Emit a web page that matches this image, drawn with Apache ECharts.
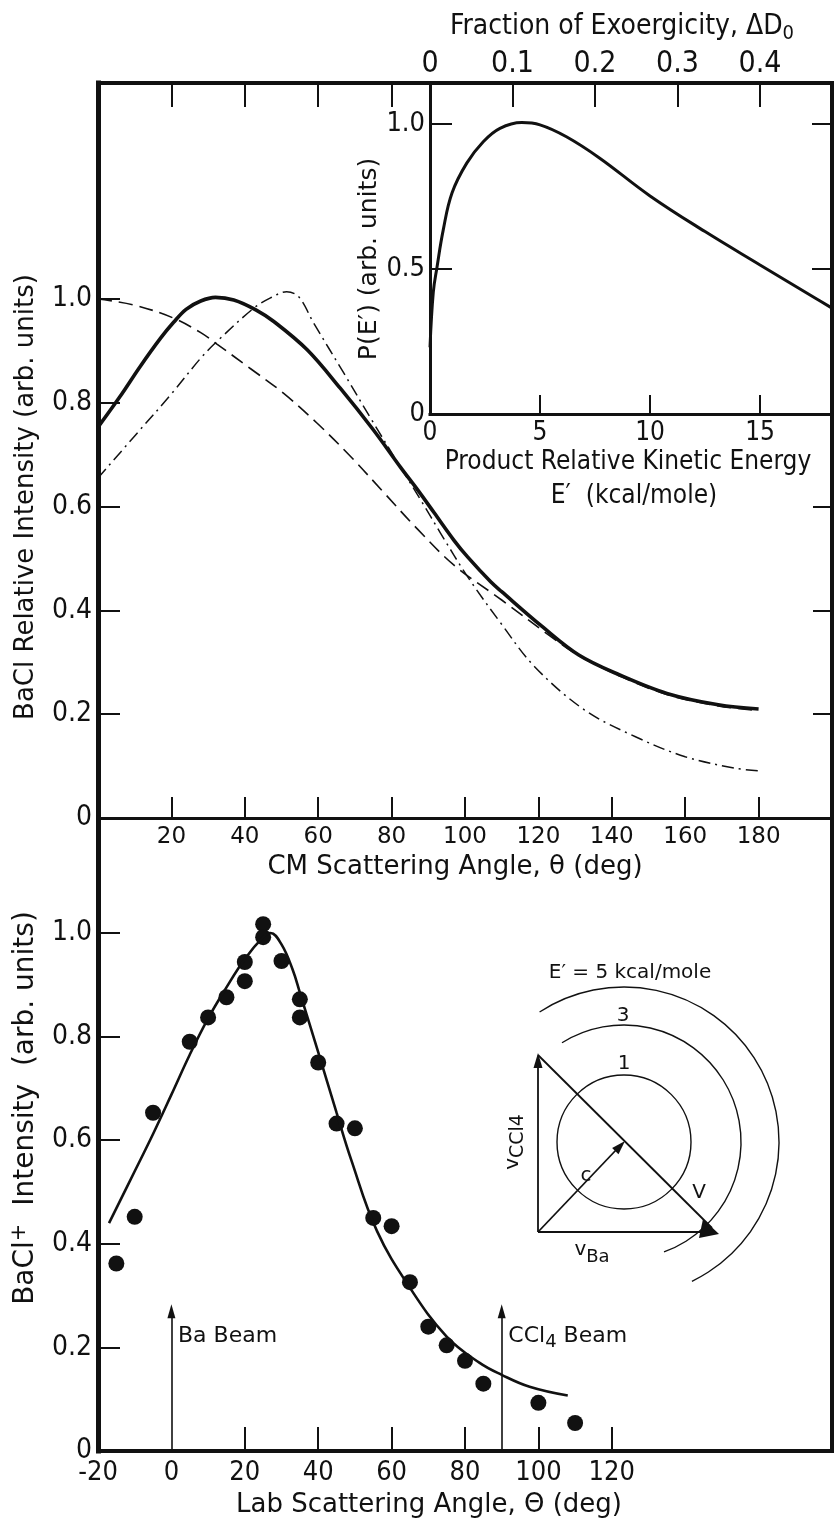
<!DOCTYPE html>
<html><head><meta charset="utf-8">
<script src="https://cdn.jsdelivr.net/npm/echarts/dist/echarts.min.js"></script>
<style>html,body{margin:0;padding:0;background:#fff}#c{width:837px;height:1525px}</style>
</head><body><div id="c"></div>
<script>
// ---------- DATA ----------
// Upper panel: CM angular distributions (CM angle in deg, relative intensity)
const solidCM   = [0,6,11.5,17,20.6,24,28,32,37,43,48,57,66,75,82.5,87,91.6,97,100.7,107,110,121,131,142,155,169,180];
const solidVal  = [0.753,0.812,0.87,0.924,0.955,0.98,0.996,1.003,0.998,0.979,0.956,0.902,0.828,0.748,0.675,0.633,0.588,0.535,0.503,0.455,0.436,0.369,0.314,0.276,0.24,0.218,0.21];
const dashCM    = [0,10,20.6,28,32.4,41.5,50.6,59.8,68.9,78,87,97,110,123.5,131,142,155,169,180];
const dashVal   = [1.0,0.988,0.963,0.935,0.913,0.866,0.818,0.76,0.696,0.626,0.557,0.487,0.42,0.349,0.313,0.274,0.238,0.216,0.207];
const dotCM     = [0,10,20,28,32.4,42.4,47,51.4,54.7,58.8,67,74.3,82.5,88,93.4,100.7,109.8,118.9,132.6,146.3,160,173.6,180];
const dotVal    = [0.655,0.736,0.817,0.886,0.918,0.982,1.002,1.014,1.004,0.953,0.857,0.77,0.675,0.612,0.548,0.465,0.375,0.292,0.208,0.157,0.118,0.096,0.091];
// Inset: P(E') vs E' (kcal/mole)
const peE       = [0,0.15,0.32,0.6,1.0,1.67,2.42,3.18,4.17,5.0,6.2,7.7,10,12.5,15,17.5,18.27];
const peVal     = [0.23,0.42,0.507,0.634,0.762,0.865,0.939,0.985,1.005,0.997,0.956,0.883,0.752,0.629,0.514,0.40,0.365];
// Lower panel: lab angular distribution
const fitLab    = [-17,-10,-5,0,5,10,15,20,25,27,30,33,35,40,45,49,56,65,75,84,90,97.6,108];
const fitVal    = [0.44,0.54,0.612,0.688,0.765,0.835,0.895,0.95,0.992,1.0,0.978,0.93,0.885,0.77,0.653,0.562,0.425,0.315,0.221,0.17,0.147,0.124,0.107];
const ptLab     = [-15,-10,-5,5,10,15,20,20,25,25,30,35,35,40,45,50,55,60,65,70,75,80,85,100,110];
const ptVal     = [0.362,0.452,0.653,0.79,0.837,0.876,0.944,0.907,1.017,0.992,0.946,0.872,0.837,0.75,0.632,0.623,0.45,0.434,0.326,0.24,0.204,0.174,0.13,0.093,0.054];
// Beam directions (lab angle)
const beamAngles = [0, 90];
const beamNames  = ['Ba Beam', 'CCl{s|4} Beam'];
// Tick values / labels
const cmTicks      = [20,40,60,80,100,120,140,160,180];
const cmTopTicks   = [20,40,60,80];
const yTicks       = [0.2,0.4,0.6,0.8,1.0];
const yLabels      = [0,0.2,0.4,0.6,0.8,1.0];
const upperRightTicks = [0.2,0.4,0.6];
const eTicks       = [5,10,15];
const eLabels      = [0,5,10,15];
const fracTicks    = [0.1,0.2,0.3,0.4];
const fracLabels   = [0,0.1,0.2,0.3,0.4];
const pTicks       = [0.5,1.0];
const pLabels      = [0,0.5,1.0];
const labTicks     = [20,40,60,80,100,120];
const labLabels    = [-20,0,20,40,60,80,100,120];

const zip = (a,b) => a.map((v,i)=>[v,b[i]]);
const K = '#111';
const REG = "'DejaVu Sans', 'Liberation Sans', sans-serif";
const NAR = "'Liberation Sans Narrow', 'DejaVu Sans Condensed', 'Arial Narrow', sans-serif";
const fmt1 = v => (v === 0 ? '0' : v.toFixed(1));

function ax(o){
  return {
    type:'value', min:o.min, max:o.max, gridIndex:o.grid, position:o.pos,
    splitLine:{show:false},
    axisLine:{show:o.line!==0, onZero:false, lineStyle:{color:K, width:o.line||3, cap:'square'}},
    axisTick:{show:!!o.ticks, inside:true, length:o.tlen||20, customValues:o.ticks||[], lineStyle:{color:K,width:2}},
    axisLabel:{show:!!o.labels, customValues:o.labels||[], margin:o.margin||8, color:K,
      fontSize:o.fs||24, fontFamily:o.ff||REG, formatter:o.fmt||(v=>String(v)), hideOverlap:false, showMinLabel:true, showMaxLabel:true}
  };
}

const chart = echarts.init(document.getElementById('c'), null, {renderer:'canvas'});
const option = {
  backgroundColor:'#fff',
  animation:false,
  grid:[
    {left:98, top:83, width:734, height:735},
    {left:430, top:83, width:402, height:331},
    {left:98, top:818, width:734, height:633}
  ],
  xAxis:[
    ax({grid:0,min:0,max:200,pos:'bottom',line:3,ticks:cmTicks,tlen:21,labels:cmTicks,fs:23,ff:REG,margin:8}),
    ax({grid:0,min:0,max:200,pos:'top',line:4,ticks:cmTopTicks,tlen:24}),
    ax({grid:1,min:0,max:18.27,pos:'bottom',line:3,ticks:eTicks,tlen:19,labels:eLabels,fs:26,ff:NAR,margin:6}),
    ax({grid:1,min:0,max:0.4872,pos:'top',line:0,ticks:fracTicks,tlen:24,labels:fracLabels,fs:30,ff:NAR,margin:4,fmt:fmt1}),
    ax({grid:2,min:-20,max:180,pos:'bottom',line:4,ticks:labTicks,tlen:24,labels:labLabels,fs:27,ff:NAR,margin:8})
  ],
  yAxis:[
    ax({grid:0,min:0,max:1.416,pos:'left',line:5,ticks:yTicks,tlen:22,labels:yLabels,fs:28,ff:NAR,margin:6,fmt:fmt1}),
    ax({grid:0,min:0,max:1.416,pos:'right',line:4,ticks:upperRightTicks,tlen:19}),
    ax({grid:1,min:0,max:1.1414,pos:'left',line:3,ticks:pTicks,tlen:22,labels:pLabels,fs:27,ff:NAR,margin:5,fmt:fmt1}),
    ax({grid:1,min:0,max:1.1414,pos:'right',line:0,ticks:pTicks,tlen:20}),
    ax({grid:2,min:0,max:1.222,pos:'left',line:5,ticks:yTicks,tlen:22,labels:yLabels,fs:28,ff:NAR,margin:6,fmt:fmt1}),
    ax({grid:2,min:0,max:1.222,pos:'right',line:4})
  ],
  series:[
    {type:'line', name:'solid', xAxisIndex:0, yAxisIndex:0, data:zip(solidCM,solidVal), smooth:0.35, symbol:'none',
      lineStyle:{color:K,width:3.6}},
    {type:'line', name:'dashed', xAxisIndex:0, yAxisIndex:0, data:zip(dashCM,dashVal), smooth:0.35, symbol:'none',
      lineStyle:{color:K,width:1.6,type:[14,7]}},
    {type:'line', name:'dashdot', xAxisIndex:0, yAxisIndex:0, data:zip(dotCM,dotVal), smooth:0.35, symbol:'none',
      lineStyle:{color:K,width:1.5,type:[12,5,2,5]}},
    {type:'line', name:'PE', xAxisIndex:2, yAxisIndex:2, data:zip(peE,peVal), smooth:0.4, symbol:'none',
      lineStyle:{color:K,width:3}},
    {type:'line', name:'fit', xAxisIndex:4, yAxisIndex:4, data:zip(fitLab,fitVal), smooth:0.4, symbol:'none',
      lineStyle:{color:K,width:2.6},
      markLine:{silent:true, symbol:['none','triangle'], symbolSize:[8,14], animation:false,
        lineStyle:{color:K,width:1.6,type:'solid',opacity:1}, label:{show:false},
        data: beamAngles.map(a=>[{coord:[a,0]},{coord:[a,0.27]}])}},
    {type:'scatter', name:'data', xAxisIndex:4, yAxisIndex:4, data:zip(ptLab,ptVal), symbol:'circle', symbolSize:16,
      itemStyle:{color:K, opacity:1}},
    {type:'scatter', name:'beamLabels', xAxisIndex:4, yAxisIndex:4, symbolSize:0, itemStyle:{opacity:1},
      data: beamAngles.map((a,i)=>({value:[a+1.8,0.222], name:beamNames[i]})),
      label:{show:true, position:'right', distance:0, formatter:p=>p.name, color:K, opacity:1, fontSize:22, fontFamily:REG,
        rich:{s:{fontSize:18, fontFamily:REG, color:K, padding:[12,0,0,0]}}}}
  ],
  graphic:[]
};

// ---- axis titles & annotations (text) ----
const T = (x,y,text,font,extra) => Object.assign({type:'text', x:x, y:y, silent:true,
  style:{text:text, font:font, fill:K, align:'center', verticalAlign:'middle'}}, extra||{});
const G = option.graphic;
G.push(T(622,27,'', '', {style:{text:'Fraction of Exoergicity, ΔD{s|0}', fill:K, align:'center', verticalAlign:'middle', fontSize:28, fontFamily:NAR,
  rich:{s:{fontSize:20, fontFamily:NAR, fill:K, padding:[14,0,0,0]}}}}));
G.push(T(628,462,'Product Relative Kinetic Energy','26px '+NAR));
G.push(T(634,496,'E′  (kcal/mole)','26px '+NAR));
G.push(T(369,259,'P(E′) (arb. units)','25px '+REG,{rotation:Math.PI/2}));
G.push(T(26,497,'BaCl Relative Intensity (arb. units)','26px '+REG,{rotation:Math.PI/2}));
G.push(T(26,1108,'', '', {rotation:Math.PI/2, style:{text:'BaCl{p|+}  Intensity  (arb. units)', fill:K, align:'center', verticalAlign:'middle', fontSize:28, fontFamily:REG,
  rich:{p:{fontSize:21, fontFamily:REG, fill:K, padding:[0,0,12,0]}}}}));
G.push(T(455,867,'CM Scattering Angle, θ (deg)','26px '+REG));
G.push(T(429,1505,'Lab Scattering Angle, Θ (deg)','26px '+REG));

// ---- Newton diagram (schematic) ----
const L = (x1,y1,x2,y2,w) => ({type:'line', silent:true, shape:{x1,y1,x2,y2}, style:{stroke:K, lineWidth:w||1.8}});
const P = (pts) => ({type:'polygon', silent:true, shape:{points:pts}, style:{fill:K}});
const A = (r,s,e) => ({type:'arc', silent:true, shape:{cx:624, cy:1142, r:r, startAngle:s*Math.PI/180, endAngle:e*Math.PI/180, clockwise:true}, style:{stroke:K, lineWidth:1.4, fill:null}});
G.push(L(538,1232,538,1064));
G.push(P([[538,1053],[533.5,1068],[542.5,1068]]));
G.push(L(538,1232,706,1232));
G.push(L(538,1055,712,1228));
G.push(P([[719,1234],[703,1219],[699,1238]]));
G.push(L(538,1232,617,1149));
G.push(P([[625,1141],[618.5,1154.2],[612.1,1148]]));
G.push({type:'circle', silent:true, shape:{cx:624, cy:1142, r:67}, style:{stroke:K, lineWidth:1.4, fill:null}});
G.push(A(117,-122,70));
G.push(A(155,-123,64));
G.push(T(630,973,'E′ = 5 kcal/mole','20px '+REG));
G.push(T(623,1016,'3','20px '+REG));
G.push(T(624,1064,'1','20px '+REG));
G.push(T(586,1176,'c','20px '+REG));
G.push(T(699,1193,'V','20px '+REG));
G.push(T(513,1142,'', '', {rotation:Math.PI/2, style:{text:'v{s|CCl4}', fill:K, align:'center', verticalAlign:'middle', fontSize:20, fontFamily:REG,
  rich:{s:{fontSize:19, fontFamily:REG, fill:K, padding:[10,0,0,0]}}}}));
G.push(T(592,1250,'', '', {style:{text:'v{s|Ba}', fill:K, align:'center', verticalAlign:'middle', fontSize:20, fontFamily:REG,
  rich:{s:{fontSize:18, fontFamily:REG, fill:K, padding:[14,0,0,0]}}}}));

chart.setOption(option);
</script></body></html>
